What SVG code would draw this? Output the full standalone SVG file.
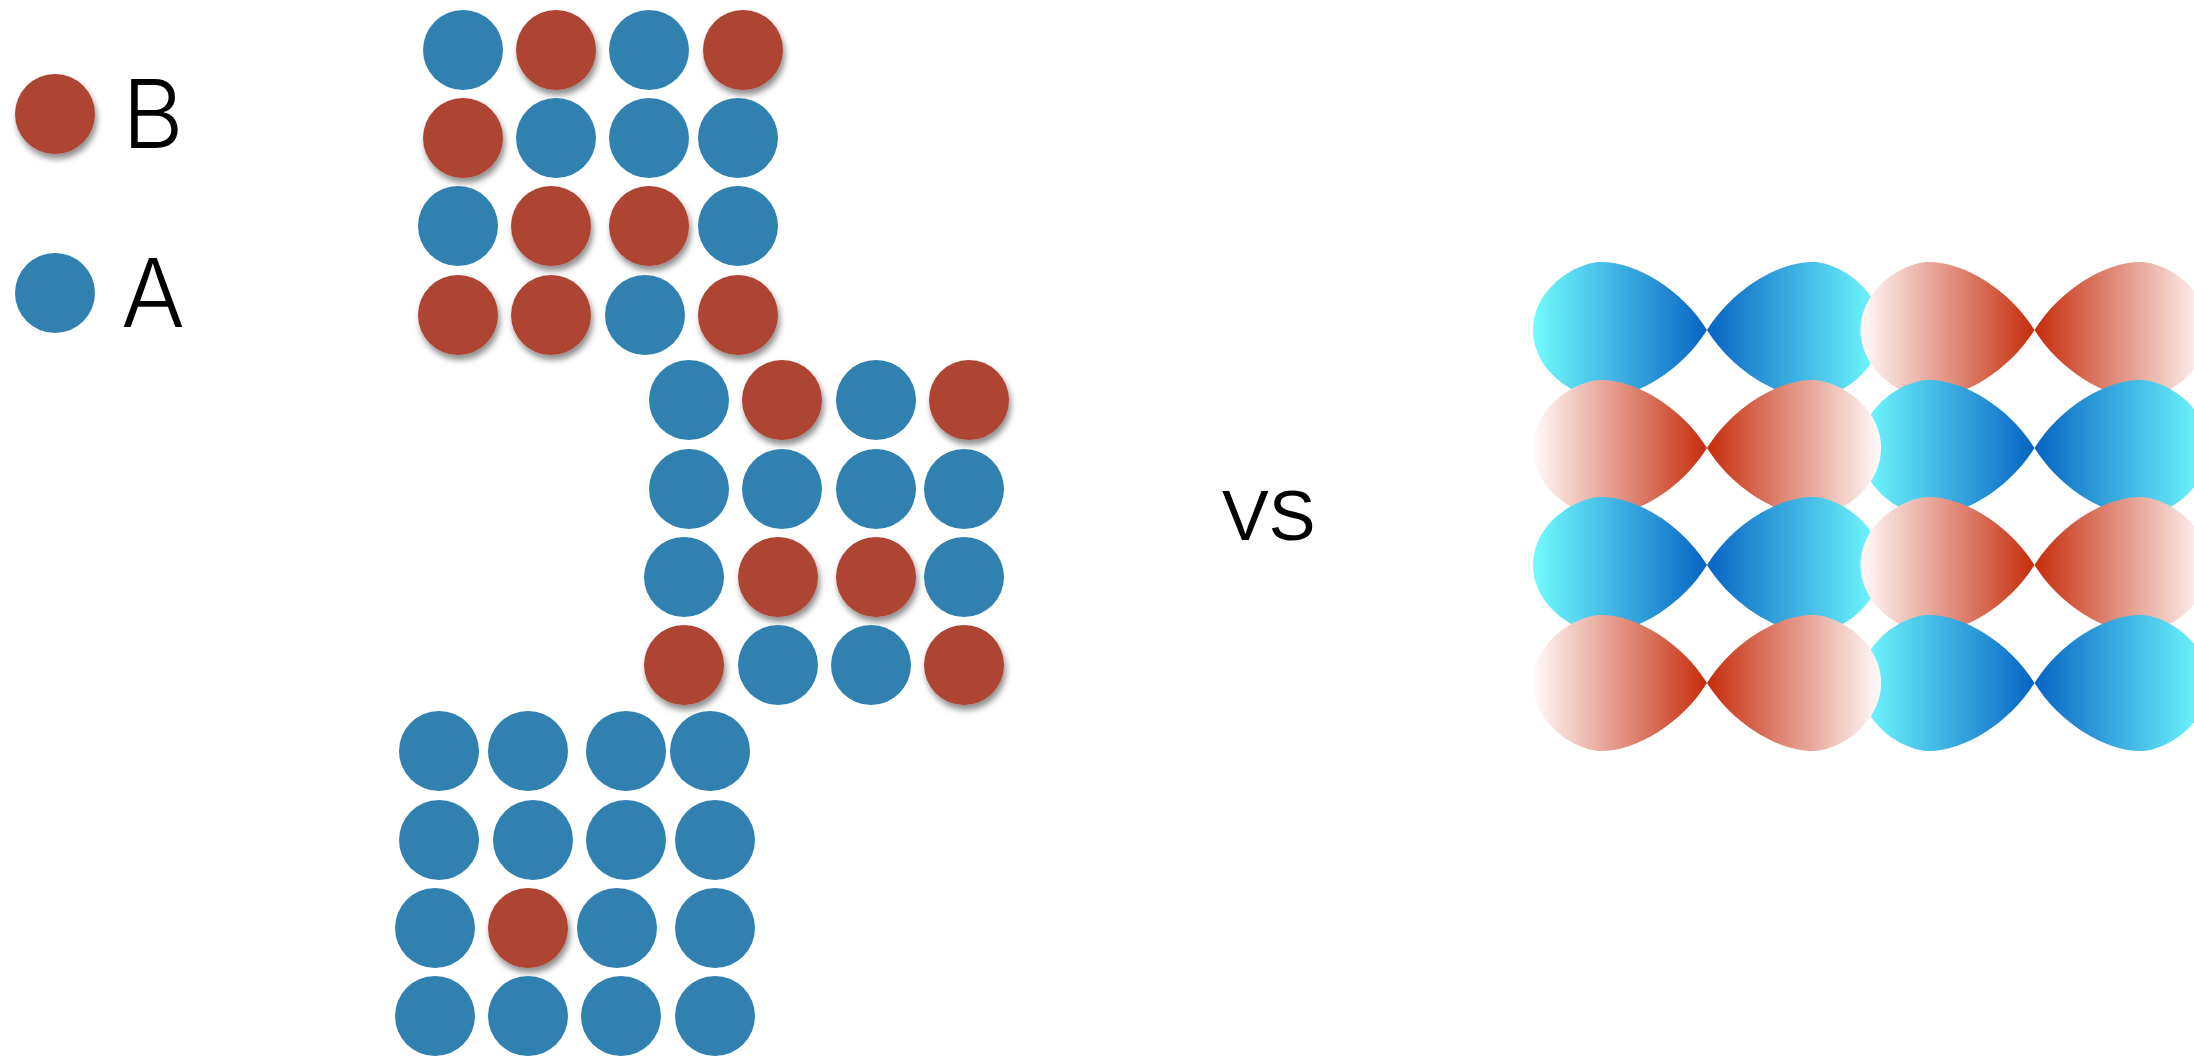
<svg xmlns="http://www.w3.org/2000/svg" xmlns:xlink="http://www.w3.org/1999/xlink" width="2194" height="1057" viewBox="0 0 2194 1057">
<style>
.a{fill:#3080b0}
.b{fill:#ad4432;filter:url(#sh)}
.lbl{font-family:Inter,"Liberation Sans",sans-serif;font-weight:300;font-size:95px;fill:#000}
.vs{font-family:"Liberation Sans",Arial,sans-serif;font-size:70px;fill:#000}
</style>
<defs>
<filter id="sh" x="-30%" y="-30%" width="170%" height="180%">
<feDropShadow dx="2" dy="5" stdDeviation="3" flood-color="#000" flood-opacity="0.45"/>
</filter>
<linearGradient id="gA" x1="0" y1="0" x2="1" y2="0">
<stop offset="0" stop-color="#72fcff"/>
<stop offset="1" stop-color="#0764c3"/>
</linearGradient>
<linearGradient id="gB" x1="0" y1="0" x2="1" y2="0">
<stop offset="0" stop-color="#fffbfb"/>
<stop offset="1" stop-color="#c62c0c"/>
</linearGradient>
<path id="lobe" d="M0,0 C-25,-40 -70,-68 -106,-68 C-130,-68 -174,-42 -174,0 C-174,42 -130,68 -106,68 C-70,68 -25,40 0,0 Z"/>
</defs>
<rect width="2194" height="1057" fill="#fff"/>

<g id="legend">
<g id="legend-B"><circle class="b" cx="55" cy="114" r="40"/><text class="lbl" x="122" y="148">B</text></g>
<g id="legend-A"><circle class="a" cx="55" cy="293" r="40"/><text class="lbl" x="121" y="327">A</text></g>
</g>

<g id="grid-top">
<circle class="a" cx="463" cy="50" r="40"/><circle class="b" cx="556" cy="50" r="40"/><circle class="a" cx="649" cy="50" r="40"/><circle class="b" cx="743" cy="50" r="40"/>
<circle class="b" cx="463" cy="138" r="40"/><circle class="a" cx="556" cy="138" r="40"/><circle class="a" cx="649" cy="138" r="40"/><circle class="a" cx="738" cy="138" r="40"/>
<circle class="a" cx="458" cy="226" r="40"/><circle class="b" cx="551" cy="226" r="40"/><circle class="b" cx="649" cy="226" r="40"/><circle class="a" cx="738" cy="226" r="40"/>
<circle class="b" cx="458" cy="315" r="40"/><circle class="b" cx="551" cy="315" r="40"/><circle class="a" cx="645" cy="315" r="40"/><circle class="b" cx="738" cy="315" r="40"/>
</g>

<g id="grid-middle">
<circle class="a" cx="689" cy="400" r="40"/><circle class="b" cx="782" cy="400" r="40"/><circle class="a" cx="876" cy="400" r="40"/><circle class="b" cx="969" cy="400" r="40"/>
<circle class="a" cx="689" cy="489" r="40"/><circle class="a" cx="782" cy="489" r="40"/><circle class="a" cx="876" cy="489" r="40"/><circle class="a" cx="964" cy="489" r="40"/>
<circle class="a" cx="684" cy="577" r="40"/><circle class="b" cx="778" cy="577" r="40"/><circle class="b" cx="876" cy="577" r="40"/><circle class="a" cx="964" cy="577" r="40"/>
<circle class="b" cx="684" cy="665" r="40"/><circle class="a" cx="778" cy="665" r="40"/><circle class="a" cx="871" cy="665" r="40"/><circle class="b" cx="964" cy="665" r="40"/>
</g>

<g id="grid-bottom">
<circle class="a" cx="439" cy="751" r="40"/><circle class="a" cx="528" cy="751" r="40"/><circle class="a" cx="626" cy="751" r="40"/><circle class="a" cx="710" cy="751" r="40"/>
<circle class="a" cx="439" cy="840" r="40"/><circle class="a" cx="533" cy="840" r="40"/><circle class="a" cx="626" cy="840" r="40"/><circle class="a" cx="715" cy="840" r="40"/>
<circle class="a" cx="435" cy="928" r="40"/><circle class="b" cx="528" cy="928" r="40"/><circle class="a" cx="617" cy="928" r="40"/><circle class="a" cx="715" cy="928" r="40"/>
<circle class="a" cx="435" cy="1016" r="40"/><circle class="a" cx="528" cy="1016" r="40"/><circle class="a" cx="621" cy="1016" r="40"/><circle class="a" cx="715" cy="1016" r="40"/>
</g>

<g id="vs"><text class="vs" x="1222" y="540">VS</text></g>

<g id="orbitals">
<g id="row1">
<use xlink:href="#lobe" href="#lobe" fill="url(#gA)" transform="translate(1707,330)"/>
<use xlink:href="#lobe" href="#lobe" fill="url(#gA)" transform="translate(1707,330) scale(-1,1)"/>
<use xlink:href="#lobe" href="#lobe" fill="url(#gB)" transform="translate(2034.5,330)"/>
<use xlink:href="#lobe" href="#lobe" fill="url(#gB)" transform="translate(2034.5,330) scale(-1,1)"/>
</g>
<g id="row2">
<use xlink:href="#lobe" href="#lobe" fill="url(#gA)" transform="translate(2034.5,448)"/>
<use xlink:href="#lobe" href="#lobe" fill="url(#gA)" transform="translate(2034.5,448) scale(-1,1)"/>
<use xlink:href="#lobe" href="#lobe" fill="url(#gB)" transform="translate(1707,448)"/>
<use xlink:href="#lobe" href="#lobe" fill="url(#gB)" transform="translate(1707,448) scale(-1,1)"/>
</g>
<g id="row3">
<use xlink:href="#lobe" href="#lobe" fill="url(#gA)" transform="translate(1707,565)"/>
<use xlink:href="#lobe" href="#lobe" fill="url(#gA)" transform="translate(1707,565) scale(-1,1)"/>
<use xlink:href="#lobe" href="#lobe" fill="url(#gB)" transform="translate(2034.5,565)"/>
<use xlink:href="#lobe" href="#lobe" fill="url(#gB)" transform="translate(2034.5,565) scale(-1,1)"/>
</g>
<g id="row4">
<use xlink:href="#lobe" href="#lobe" fill="url(#gA)" transform="translate(2034.5,683)"/>
<use xlink:href="#lobe" href="#lobe" fill="url(#gA)" transform="translate(2034.5,683) scale(-1,1)"/>
<use xlink:href="#lobe" href="#lobe" fill="url(#gB)" transform="translate(1707,683)"/>
<use xlink:href="#lobe" href="#lobe" fill="url(#gB)" transform="translate(1707,683) scale(-1,1)"/>
</g>
</g>
<g id="connectors"/>
</svg>
